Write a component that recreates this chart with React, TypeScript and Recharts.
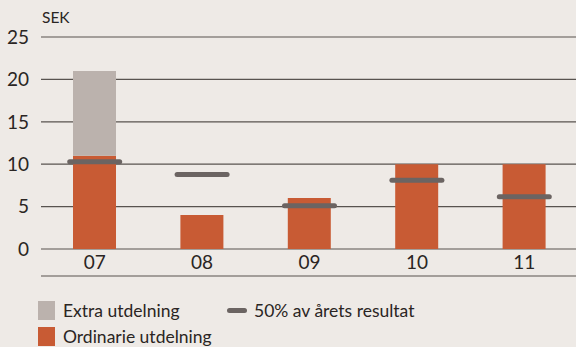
import React from "react";
import { ComposedChart, Bar, Line, XAxis, YAxis, CartesianGrid } from "recharts";

const years = ["07", "08", "09", "10", "11"];
const ordinarie = [11, 4, 6, 10, 10];
const extra = [10, 0, 0, 0, 0];
const halfResult = [10.3, 8.8, 5.1, 8.1, 6.15];
const yTicks = [0, 5, 10, 15, 20, 25];

const data = years.map((y, i) => ({ year: y, ord: ordinarie[i], extra: extra[i], half: halfResult[i] }));

const BG = "#eeeae6";
const ORANGE = "#c85b34";
const GREY = "#bbb2ad";
const MARK = "#6b6462";
const TEXT = "#2a2523";
const FONT = "Lato, 'Noto Sans', sans-serif";

const Marker = (props: any) => {
  const { cx, cy, index } = props;
  if (cx == null || cy == null) return <g key={index} />;
  return (
    <line key={index} x1={cx - 25} x2={cx + 25} y1={cy} y2={cy} stroke={MARK} strokeWidth={5} strokeLinecap="round" />
  );
};

export default function App() {
  return (
    <div style={{ position: "fixed", left: 0, top: 0, width: 576, height: 347, overflow: "hidden", background: BG, fontFamily: FONT }}>
      <div style={{ position: "absolute", left: 42, top: 8, fontSize: 15.5, color: TEXT }}>SEK</div>
      <ComposedChart width={580} height={347} data={data} margin={{ top: 37, right: 2, bottom: 70, left: 0 }}>
        <CartesianGrid vertical={false} stroke="#58534f" strokeWidth={1.2} />
        <XAxis dataKey="year" xAxisId="a" height={27} axisLine={false} tickLine={false}
          tick={{ fontSize: 19, fill: TEXT, fontFamily: FONT }} tickMargin={1} />
        <XAxis dataKey="year" xAxisId="b" height={1} tick={false} tickLine={false}
          axisLine={{ stroke: "#58534f", strokeWidth: 1.2 }} />
        <YAxis domain={[0, 25]} ticks={yTicks} width={41} axisLine={false} tickLine={false}
          tick={{ fontSize: 19, fill: TEXT, fontFamily: FONT }} tickMargin={6} />
        <Bar dataKey="ord" xAxisId="a" stackId="s" fill={ORANGE} barSize={43} isAnimationActive={false} />
        <Bar dataKey="extra" xAxisId="a" stackId="s" fill={GREY} barSize={43} isAnimationActive={false} />
        <Line dataKey="half" xAxisId="b" stroke="none" dot={Marker} activeDot={false} isAnimationActive={false} />
      </ComposedChart>
      <div style={{ position: "absolute", left: 38, top: 301, fontSize: 17.5, color: TEXT, lineHeight: "19px" }}>
        <div style={{ display: "flex", alignItems: "center" }}>
          <span style={{ display: "inline-block", width: 17, height: 19, background: GREY, marginRight: 8 }} />
          <span style={{ width: 164 }}>Extra utdelning</span>
          <span style={{ display: "inline-block", width: 20, height: 5, borderRadius: 3, background: MARK, marginRight: 7 }} />
          <span>50% av årets resultat</span>
        </div>
        <div style={{ display: "flex", alignItems: "center", marginTop: 7 }}>
          <span style={{ display: "inline-block", width: 17, height: 19, background: ORANGE, marginRight: 8 }} />
          <span>Ordinarie utdelning</span>
        </div>
      </div>
    </div>
  );
}
